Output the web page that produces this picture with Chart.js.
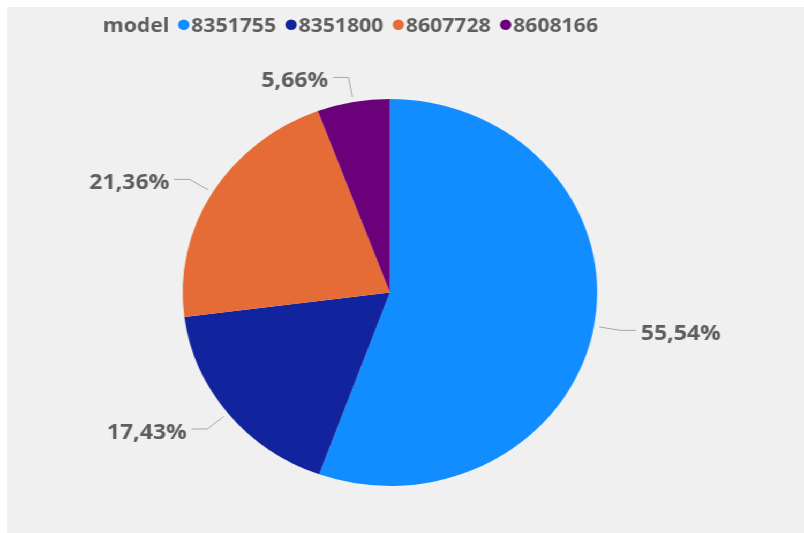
<!DOCTYPE html>
<html>
<head>
<meta charset="utf-8">
<script src="https://cdn.jsdelivr.net/npm/chart.js@4.4.1/dist/chart.umd.min.js"></script>
<style>
  html, body { margin: 0; padding: 0; background: #ffffff; width: 804px; height: 533px; overflow: hidden; }
  /* grey report panel; the whole drawing is widened a little horizontally */
  #panel {
    position: absolute; left: 7px; top: 7px;
    width: 744px; height: 526px;
    background: #f0f0f0;
    transform: scaleX(1.0712); transform-origin: 0 0;
  }
  canvas { display: block; }
</style>
</head>
<body>
<div id="panel"><canvas id="c"></canvas></div>
<script>
// Share of records per model
const legendTitle = 'model';
const models = ['8351755', '8351800', '8607728', '8608166'];
const shares = [55.54, 17.43, 21.36, 5.66];
const colors = ['#118DFF', '#12239E', '#E66C37', '#6B007B'];

const textColor = '#605E5C';
const fontFamily = '"Open Sans", "Noto Sans", sans-serif';

const pctText = v => v.toFixed(2).replace('.', ',') + '%';

// Percent labels outside the pie, joined to their slice by an elbow leader line
const outsideLabels = {
  id: 'outsideLabels',
  afterDatasetsDraw(chart) {
    const ctx = chart.ctx;
    const meta = chart.getDatasetMeta(0);
    const values = chart.data.datasets[0].data;
    ctx.save();
    ctx.font = 'bold 21.5px ' + fontFamily;
    ctx.textBaseline = 'alphabetic';
    meta.data.forEach((arc, i) => {
      const p = arc.getProps(['x', 'y', 'startAngle', 'endAngle', 'outerRadius'], true);
      const mid = (p.startAngle + p.endAngle) / 2;
      const c = Math.cos(mid), s = Math.sin(mid);
      const r0 = p.outerRadius + 5, r1 = p.outerRadius + 25;
      const x0 = p.x + c * r0, y0 = p.y + s * r0;
      const x1 = p.x + c * r1, y1 = p.y + s * r1;
      const dir = c >= 0 ? 1 : -1;
      const x2 = x1 + dir * 14.5;
      ctx.strokeStyle = '#A8A8A8';
      ctx.lineWidth = 1;
      ctx.beginPath();
      ctx.moveTo(x0, y0);
      ctx.lineTo(x1, y1);
      ctx.lineTo(x2, y1);
      ctx.stroke();
      ctx.fillStyle = textColor;
      ctx.textAlign = dir > 0 ? 'left' : 'right';
      ctx.fillText(pctText(values[i]), x2 + dir * 4.5, y1 + 10);
    });
    ctx.restore();
  }
};

// Single-row legend: title followed by dot + label entries
const inlineLegend = {
  id: 'inlineLegend',
  afterDraw(chart) {
    const ctx = chart.ctx;
    const ds = chart.data.datasets[0];
    ctx.save();
    ctx.font = 'bold 19.8px ' + fontFamily;
    ctx.textAlign = 'left';
    ctx.textBaseline = 'alphabetic';
    const base = 25.3;
    let x = 89.6;
    ctx.fillStyle = textColor;
    ctx.fillText(legendTitle, x, base);
    x += ctx.measureText(legendTitle).width + 13.5;
    chart.data.labels.forEach((label, i) => {
      ctx.fillStyle = ds.backgroundColor[i];
      ctx.beginPath();
      ctx.arc(x, base - 7.6, 5.3, 0, Math.PI * 2);
      ctx.fill();
      ctx.fillStyle = textColor;
      ctx.fillText(label, x + 7, base);
      x += 7 + ctx.measureText(label).width + 14;
    });
    ctx.restore();
  }
};

new Chart(document.getElementById('c'), {
  type: 'pie',
  data: {
    labels: models,
    datasets: [{
      data: shares,
      backgroundColor: colors,
      borderWidth: 0,
      hoverOffset: 0
    }]
  },
  options: {
    responsive: true,
    maintainAspectRatio: false,
    devicePixelRatio: 1,
    animation: false,
    events: [],
    radius: 193.5,
    layout: { padding: { top: 92, bottom: 47, left: 0, right: 29 } },
    plugins: {
      legend: { display: false },
      tooltip: { enabled: false },
      title: { display: false }
    }
  },
  plugins: [outsideLabels, inlineLegend]
});
</script>
</body>
</html>
